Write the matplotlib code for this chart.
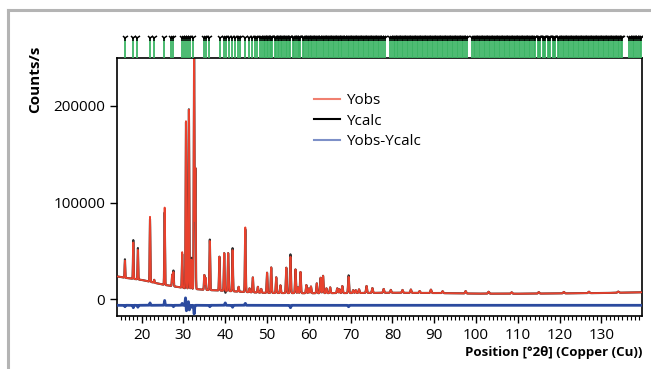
import numpy as np
import matplotlib
matplotlib.use('Agg')
import matplotlib.pyplot as plt
from matplotlib.lines import Line2D
from matplotlib.ticker import MultipleLocator

plt.rcParams['font.family'] = ['Open Sans', 'DejaVu Sans']

# background of the observed pattern (deg, counts)
bg_pos = [14, 16, 20, 25, 30, 35, 40, 45, 50, 60, 70, 80, 90, 100, 110, 120, 130, 140]
bg_cts = [23500, 22000, 19800, 15000, 11500, 9500, 8500, 7200, 6300, 6000, 6200, 6500,
          6200, 5600, 5500, 5800, 6200, 7000]

# peaks above background (deg, counts)
peak_pos = [16.0, 18.0, 19.1, 22.0, 23.0, 25.5, 27.3, 27.6, 29.7, 30.6, 31.3, 31.9,
            32.55, 32.85, 35.0, 35.3, 36.3, 38.6, 39.75, 40.7, 41.75, 43.2, 44.8,
            45.8, 46.6, 47.8, 48.6, 50.0, 51.0, 52.2, 53.2, 54.6, 55.6, 56.8, 57.4,
            58.0, 59.4, 60.0, 60.5, 61.9, 62.8, 63.4, 64.2, 65.1, 66.8, 67.3, 68.0,
            69.5, 70.6, 71.2, 72.0, 73.8, 75.2, 77.9, 79.6, 82.4, 84.4, 86.5, 89.2,
            92.0, 97.5, 103.0, 108.5, 115.0, 121.0, 127.0, 134.0]
peak_cts = [17700, 37700, 30600, 67300, 3000, 80100, 11900, 14900, 36900, 173000,
            185100, 30000, 237400, 125000, 15400, 12500, 50900, 35100, 39100, 39300,
            42700, 5000, 67000, 4000, 15500, 6000, 4000, 21000, 26500, 16300, 8000,
            26300, 37700, 24600, 6000, 22000, 8500, 5000, 7000, 10200, 16000, 18000,
            5000, 6000, 5000, 4000, 7300, 16900, 3000, 3000, 3800, 7200, 5000, 4000,
            3000, 3000, 3500, 2000, 3500, 2000, 2500, 2000, 1500, 1500, 1500, 1500,
            1200]

# residual Yobs-Ycalc at peaks (deg, counts)
res_pos = [16.0, 18.0, 19.1, 22.0, 25.5, 27.6, 29.7, 30.5, 30.7, 31.2, 31.4, 31.9,
           32.55, 36.3, 40.0, 41.75, 44.8, 55.6, 69.5]
res_cts = [-1500, -2500, -2000, 2500, 5000, -1500, 2000, 8000, -6000, 4000, -5000,
           -2000, -9000, -1500, 2500, -2000, 2000, -2500, -1500]
diff_offset = -6500

# reflection positions (deg)
refl = [16.0, 18.0, 19.0, 22.1, 22.95, 25.4, 27.0, 27.6, 29.6, 30.15, 30.6, 31.2,
        31.6, 32.2, 34.8, 35.4, 36.0, 38.8, 39.6, 40.2, 41.0, 41.6, 42.4, 43.0,
        43.6, 44.8, 45.6, 46.4, 47.0, 47.6, 48.2,
        48.8, 49.2, 49.5, 49.9,
        50.3, 50.6, 51.0, 51.3, 51.8, 52.1, 52.5, 52.8, 53.3, 53.6, 54.0, 54.5, 54.8,
        55.2, 55.6, 56.1, 56.4, 56.9, 57.3, 57.6, 58.0, 58.5, 58.8, 59.3, 59.7,
        60.1, 60.5, 60.8, 61.3, 61.7, 62.0, 62.4, 62.8, 63.3, 63.6, 64.1, 64.5, 64.8,
        65.2, 65.7, 66.1, 66.4, 66.9, 67.2, 67.7, 68.0, 68.5, 68.9, 69.3, 69.6,
        70.1, 70.5, 70.9, 71.2, 71.7, 72.0, 72.5, 72.9, 73.2, 73.7, 74.1, 74.4, 74.9,
        75.3, 75.6, 76.1, 76.5, 76.8, 77.3, 77.7, 78.1, 79.5, 79.9,
        80.3, 80.6, 81.0, 81.4, 81.9, 82.2, 82.6, 83.0, 83.4, 83.8, 84.2, 84.6, 85.0,
        85.3, 85.8, 86.2, 86.5, 87.0, 87.4, 87.7, 88.2, 88.6, 88.9, 89.4, 89.8,
        90.1, 90.6, 91.0, 91.3, 91.8, 92.1, 92.6, 93.0, 93.3, 93.8, 94.2, 94.5, 95.0,
        95.4, 95.7, 96.2, 96.6, 96.9, 97.4, 97.8, 99.1, 99.5, 99.8,
        100.3, 100.7, 101.0, 101.5, 101.9, 102.2, 102.7, 103.1, 103.4, 103.9, 104.3,
        104.6, 105.1, 105.5, 105.8, 106.3, 106.7, 107.0, 107.5, 107.9, 108.2, 108.7,
        109.1, 109.4, 109.9,
        110.2, 110.6, 111.1, 111.4, 111.8, 112.3, 112.6, 113.0, 113.5, 113.8, 114.2,
        114.7, 115.0, 115.4, 115.9, 116.2, 116.6, 117.1, 117.4, 117.8, 118.3, 118.6,
        119.0, 119.5, 119.8,
        120.2, 120.7, 121.0, 121.4, 121.9, 122.2, 122.6, 123.1, 123.4, 123.8, 124.3,
        124.6, 125.0, 125.5, 125.8, 126.2, 126.7, 127.0, 127.4, 127.9, 128.2, 128.6,
        129.1, 129.4, 129.8,
        130.3, 130.6, 131.0, 131.5, 131.8, 132.2, 132.7, 133.0, 133.4, 133.9, 134.2,
        134.7, 135.0, 136.7, 137.1, 137.5, 137.9, 138.3, 138.7, 139.1, 139.5]

x = np.arange(14.0, 140.01, 0.01)
bg = np.interp(x, bg_pos, bg_cts)

def profile(pos, cts):
    out = np.zeros_like(x)
    for p, h in zip(pos, cts):
        s = 0.07 + 0.0008 * (p - 14)
        out += h * np.exp(-0.5 * ((x - p) / s) ** 2)
    return out

yobs = bg + profile(peak_pos, peak_cts)
resid = profile(res_pos, res_cts)
ycalc = yobs - resid
ydiff = diff_offset + resid

fig = plt.figure(figsize=(6.51, 3.69), dpi=100)
ax = fig.add_axes([0.1797, 0.1436, 0.8065, 0.6992])

ax.plot(x, ycalc, color='#303030', lw=1.5, zorder=2)
ax.plot(x, yobs, color='#e8412d', lw=1.3, zorder=3)
ax.plot(x, ydiff, color='#2b4a9e', lw=2.0, zorder=3)

ax.set_xlim(14.1, 139.7)
ax.set_ylim(-17600, 249700)
ax.xaxis.set_major_locator(MultipleLocator(10))
ax.xaxis.set_minor_locator(MultipleLocator(1))
ax.set_yticks([0, 100000, 200000])
ax.tick_params(axis='both', which='major', direction='out', length=5, width=1,
               labelsize=11, colors='black')
ax.tick_params(axis='x', which='minor', direction='out', length=3, width=0.8)
for sp in ax.spines.values():
    sp.set_linewidth(1.2)

ax.set_xlabel('Position [°2θ] (Copper (Cu))', fontsize=9.5, fontweight='bold')
ax.xaxis.set_label_coords(1.0, -0.115)
ax.xaxis.label.set_horizontalalignment('right')
fig.text(0.054, 0.785, 'Counts/s', rotation=90, fontsize=11, fontweight='bold',
         ha='center', va='center')

handles = [Line2D([], [], color='#f08070', lw=1.5),
           Line2D([], [], color='black', lw=1.5),
           Line2D([], [], color='#7d90c8', lw=1.5)]
ax.legend(handles, ['Yobs', 'Ycalc', 'Yobs-Ycalc'], loc='upper left',
          bbox_to_anchor=(0.35, 0.917), frameon=False, fontsize=11,
          handlelength=1.7, labelspacing=0.35, handletextpad=0.35)

# reflection markers above the plot
axr = fig.add_axes([0.1797, 0.8428, 0.8065, 0.0705], sharex=ax)
axr.set_ylim(0, 1)
axr.vlines(refl, 0, 0.8, color='#3cb464', lw=1.3)
axr.plot(refl, [0.78] * len(refl), ls='none', marker='1', color='black',
         markersize=4.5, markeredgewidth=1.1)
axr.axis('off')

# grey frame around the figure (cut off on right and bottom)
fig.add_artist(Line2D([8 / 651, 1], [1 - 10 / 369, 1 - 10 / 369], color='#b4b4b4', lw=2.2))
fig.add_artist(Line2D([8 / 651, 8 / 651], [0, 1 - 10 / 369], color='#b4b4b4', lw=2.2))

fig.savefig('out.png', dpi=100)
